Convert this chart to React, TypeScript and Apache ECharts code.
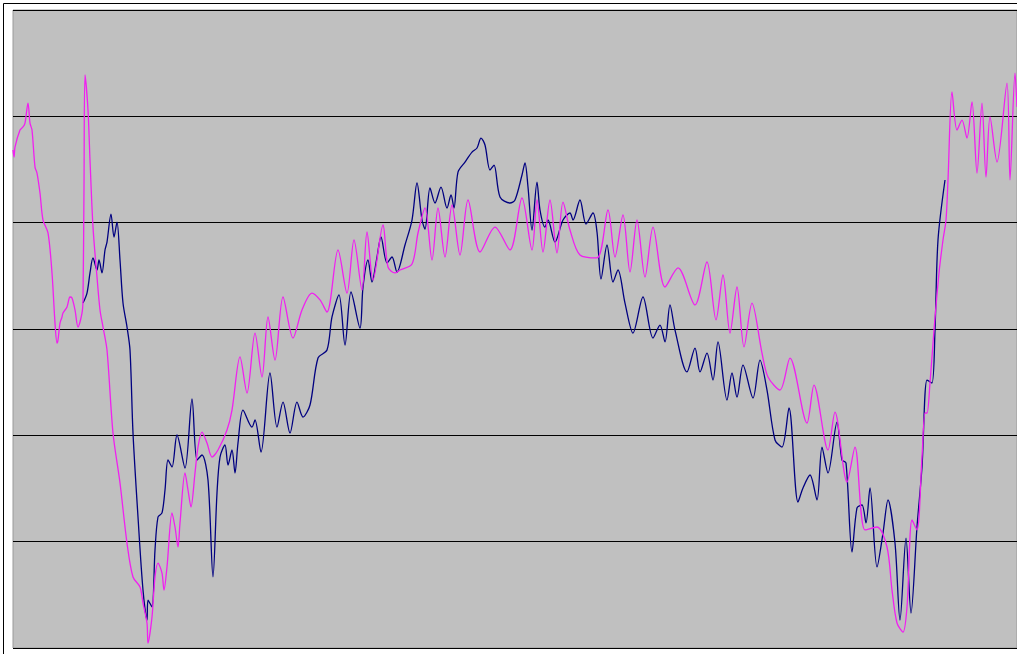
import React, { useEffect, useRef } from "react";
import * as echarts from "echarts";

// Horizontal positions (sample index) and values.
const magentaX = [
  0, 1, 2, 7, 10, 12, 15, 17, 19, 22, 24, 27, 30, 35, 39, 42, 44, 45, 47, 49, 50, 54, 57, 59, 62, 65, 69, 70, 71, 72, 75, 77, 80, 84, 87, 90, 94,
  100, 107, 114, 120, 127, 130, 134, 135, 139, 142, 145, 149, 151, 154, 159, 162, 165, 167, 172, 175, 178, 182, 185, 189, 194, 199, 205, 214, 219,
  227, 234, 242, 249, 255, 262, 270, 280, 289, 299, 307, 314, 325, 334, 341, 349, 354, 360, 370, 375, 382, 387, 399, 405, 412, 419, 425, 432, 439,
  447, 455, 467, 482, 497, 509, 519, 524, 530, 537, 544, 550, 557, 567, 584, 595, 602, 610, 617, 624, 632, 640, 652, 665, 682, 694, 703, 710, 717,
  724, 731, 739, 749, 755, 767, 777, 794, 801, 815, 822, 834, 842, 852, 864, 874, 879, 884, 890, 894, 899, 904, 909, 912, 914, 917, 921, 926, 930,
  933, 935, 939, 944, 949, 954, 959, 964, 969, 973, 977, 984, 994, 997, 1002, 1004,
];
const magentaY = [
  468.3, 461.7, 471.1, 487.1, 490.0, 493.7, 512.5, 493.7, 487.1, 452.3, 446.7, 427.9, 402.5, 390.3, 352.7, 305.6, 286.8, 289.6, 305.6, 311.3, 315.0,
  320.7, 330.1, 329.1, 317.9, 301.9, 315.0, 327.3, 433.5, 538.9, 505.9, 458.9, 395.9, 348.9, 317.9, 301.9, 280.2, 202.2, 155.2, 98.7, 66.8, 57.4,
  42.3, 23.5, 4.7, 29.2, 66.8, 79.9, 70.5, 54.5, 76.2, 127.0, 113.8, 95.0, 117.6, 164.6, 148.6, 132.6, 164.6, 189.0, 203.1, 192.8, 179.6, 186.2,
  205.0, 223.8, 273.7, 239.8, 296.2, 254.8, 311.3, 270.8, 330.1, 291.5, 317.9, 333.8, 327.3, 316.0, 374.3, 333.8, 383.7, 336.7, 391.2, 346.1, 397.8,
  358.3, 352.7, 355.5, 361.1, 390.3, 413.8, 364.9, 413.8, 367.7, 416.6, 369.6, 421.3, 372.4, 395.9, 374.3, 423.2, 374.3, 421.3, 372.4, 421.3, 371.5,
  419.4, 393.1, 369.6, 366.8, 411.9, 367.7, 407.2, 353.6, 402.5, 348.9, 395.9, 339.5, 357.4, 322.6, 363.0, 308.5, 350.8, 296.2, 339.5, 283.1, 324.4,
  277.4, 254.8, 242.6, 272.7, 211.6, 247.3, 186.2, 221.9, 156.1, 189.0, 111.0, 113.8, 95.0, 54.5, 23.5, 15.0, 38.6, 120.4, 111.0, 179.6, 221.0,
  221.0, 249.2, 299.0, 352.7, 383.7, 402.5, 440.1, 522.9, 487.1, 496.5, 479.6, 513.5, 446.7, 512.5, 442.9, 499.4, 457.0, 531.3, 440.1, 540.7, 508.8,
  553.0, 551.1,
];

const navyX = [
  70, 74, 77, 80, 84, 86, 89, 92, 94, 98, 101, 104, 107, 110, 114, 117, 120, 125, 130, 134, 135, 139, 142, 145, 149, 152, 155, 159, 164, 172, 179,
  184, 189, 195, 200, 204, 207, 212, 215, 219, 222, 225, 230, 239, 242, 248, 257, 264, 270, 277, 284, 290, 297, 305, 314, 319, 326, 332, 338, 347,
  350, 355, 359, 364, 368, 374, 379, 384, 392, 399, 404, 409, 412, 417, 422, 428, 434, 438, 441, 445, 452, 459, 464, 468, 472, 477, 481, 487, 497,
  502, 509, 512, 515, 519, 524, 527, 532, 535, 542, 550, 557, 560, 567, 573, 580, 584, 588, 594, 600, 605, 612, 620, 630, 640, 647, 652, 657, 662,
  674, 682, 687, 694, 700, 705, 714, 719, 724, 730, 740, 747, 754, 762, 769, 776, 785, 790, 797, 804, 809, 815, 824, 829, 833, 839, 844, 849, 853,
  857, 864, 870, 875, 882, 887, 893, 898, 904, 909, 914, 919, 922, 925, 932,
];
const navyY = [
  324.4, 333.8, 352.7, 366.8, 355.5, 364.9, 352.7, 374.3, 381.8, 408.1, 386.5, 400.6, 364.9, 324.4, 301.9, 280.2, 202.2, 123.2, 54.5, 26.3, 45.1,
  38.6, 92.2, 123.2, 127.0, 148.6, 176.8, 170.2, 200.3, 169.3, 234.2, 176.8, 181.5, 158.0, 66.8, 145.8, 179.6, 190.9, 172.1, 186.2, 164.6, 192.8,
  223.8, 207.8, 214.4, 184.3, 258.6, 207.8, 231.3, 202.2, 231.3, 217.2, 228.5, 272.7, 280.2, 311.3, 332.0, 284.9, 334.8, 300.9, 339.5, 364.9, 344.2,
  367.7, 386.5, 362.1, 367.7, 353.6, 379.0, 402.5, 437.3, 402.5, 394.0, 432.6, 418.5, 433.5, 413.8, 426.0, 413.8, 447.6, 457.0, 466.4, 470.2, 479.6,
  473.0, 449.5, 454.2, 424.1, 418.5, 421.3, 444.8, 456.1, 433.5, 393.1, 438.2, 411.9, 395.9, 402.5, 381.8, 402.5, 409.1, 402.5, 421.3, 398.7, 409.1,
  391.2, 347.0, 379.0, 344.2, 355.5, 324.4, 296.2, 330.1, 291.5, 303.7, 287.8, 322.6, 299.0, 259.6, 282.1, 259.6, 277.4, 252.0, 287.8, 233.2, 258.6,
  236.0, 266.1, 235.1, 270.8, 242.6, 195.6, 189.0, 225.7, 137.3, 150.5, 162.7, 139.2, 189.0, 164.6, 212.5, 176.8, 174.0, 90.3, 131.7, 134.5, 117.6,
  150.5, 76.2, 108.1, 139.2, 98.7, 26.3, 103.4, 32.9, 113.8, 170.2, 252.0, 249.2, 299.0, 383.7, 440.1,
];

const yTicks = [0, 100, 200, 300, 400, 500, 600];

const toPairs = (xs: number[], ys: number[]) => xs.map((x, i) => [x, ys[i]]);

export default function App() {
  const ref = useRef<HTMLDivElement>(null);
  useEffect(() => {
    if (!ref.current) return;
    const chart = echarts.init(ref.current, null, { renderer: "svg" });
    chart.setOption({
      animation: false,
      backgroundColor: "#ffffff",
      graphic: [
        {
          type: "rect",
          shape: { x: 3.5, y: 3.5, width: 1100, height: 700 },
          style: { fill: "none", stroke: "#000000", lineWidth: 1 },
          silent: true,
          z: 10,
        },
      ],
      grid: {
        left: 13,
        top: 10,
        right: 0,
        bottom: 6,
        show: true,
        backgroundColor: "#C0C0C0",
        borderColor: "#9a9a9a",
        borderWidth: 1,
      },
      xAxis: {
        type: "value",
        min: 0,
        max: 1004,
        axisLine: { show: false },
        axisTick: { show: false },
        axisLabel: { show: false },
        splitLine: { show: false },
      },
      yAxis: {
        type: "value",
        min: yTicks[0],
        max: yTicks[yTicks.length - 1],
        interval: 100,
        axisLine: { show: false },
        axisTick: { show: false },
        axisLabel: { show: false },
        splitLine: { show: true, lineStyle: { color: "#000000", width: 1 } },
      },
      series: [
        {
          type: "line",
          name: "Series 1",
          data: toPairs(navyX, navyY),
          showSymbol: false,
          smooth: 0.3,
          lineStyle: { color: "#000080", width: 1.3 },
          itemStyle: { color: "#000080" },
          z: 2,
        },
        {
          type: "line",
          name: "Series 2",
          data: toPairs(magentaX, magentaY),
          showSymbol: false,
          smooth: 0.3,
          lineStyle: { color: "#F020F0", width: 1.3 },
          itemStyle: { color: "#F020F0" },
          z: 3,
        },
      ],
    });
    return () => chart.dispose();
  }, []);
  return (
    <div
      ref={ref}
      style={{ position: "absolute", left: 0, top: 0, width: 1017, height: 654 }}
    />
  );
}
